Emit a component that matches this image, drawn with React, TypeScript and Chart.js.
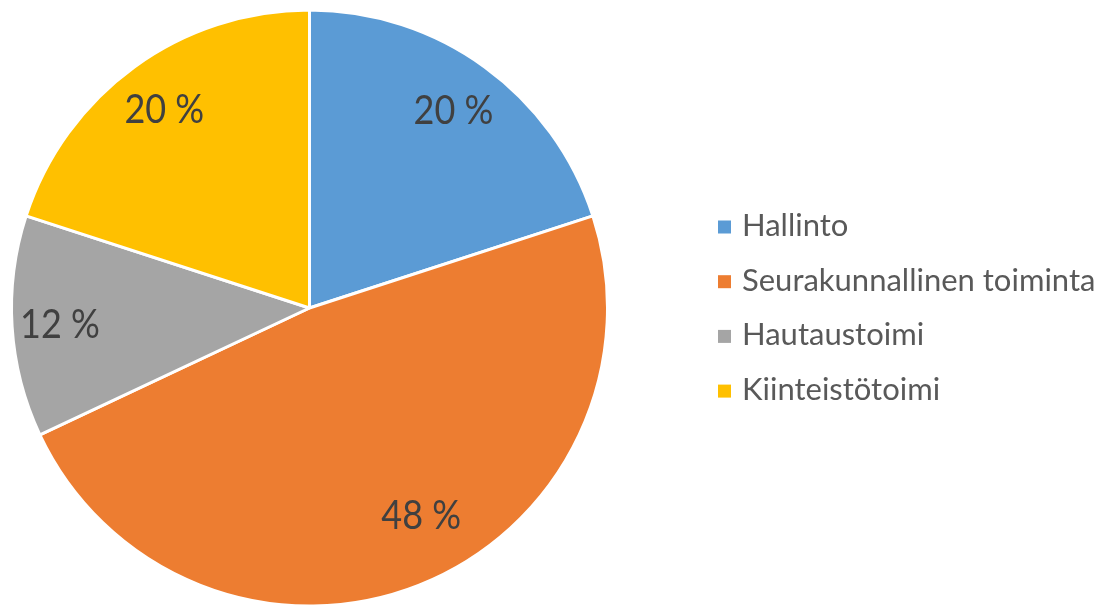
import React, { useEffect, useRef } from "react";
import { Chart, registerables } from "chart.js";

Chart.register(...registerables);

const categories = ["Hallinto", "Seurakunnallinen toiminta", "Hautaustoimi", "Kiinteistötoimi"];
const values = [20, 48, 12, 20];
const colors = ["#5B9BD5", "#ED7D31", "#A5A5A5", "#FFC000"];

// label placement (fraction of radius, angular shift in degrees)
const labelRadius = [0.822, 0.788, 0.839, 0.829];
const labelShift = [0, -6.8, 0, 0];

const FONT = "Lato, 'Open Sans', sans-serif";

const labelPlugin = {
  id: "pctLabels",
  afterDatasetsDraw(chart: any) {
    const ctx = chart.ctx;
    const meta = chart.getDatasetMeta(0);
    const total = values.reduce((a, b) => a + b, 0);
    ctx.save();
    ctx.fillStyle = "#404040";
    ctx.font = `40px ${FONT}`;
    ctx.textAlign = "center";
    ctx.textBaseline = "alphabetic";
    meta.data.forEach((arc: any, i: number) => {
      const { x, y, startAngle, endAngle, outerRadius } = arc.getProps(
        ["x", "y", "startAngle", "endAngle", "outerRadius"],
        true
      );
      const mid = (startAngle + endAngle) / 2 + (labelShift[i] * Math.PI) / 180;
      const r = outerRadius * labelRadius[i];
      const cx = x + Math.cos(mid) * r;
      const cy = y + Math.sin(mid) * r;
      const pct = Math.round((values[i] / total) * 100);
      ctx.save();
      ctx.translate(cx, cy + 14.4);
      ctx.scale(0.9, 1);
      ctx.fillText(`${pct} %`, 0, 0);
      ctx.restore();
    });
    ctx.restore();
  },
};

const legendPlugin = {
  id: "customLegend",
  afterDraw(chart: any) {
    const ctx = chart.ctx;
    ctx.save();
    ctx.font = `31px ${FONT}`;
    ctx.textBaseline = "alphabetic";
    ctx.textAlign = "left";
    const x0 = 718;
    const y0 = 227;
    const step = 54.7;
    categories.forEach((c, i) => {
      const y = y0 + i * step;
      ctx.fillStyle = colors[i];
      ctx.fillRect(x0, y - 6.5, 13, 13);
      ctx.fillStyle = "#595959";
      ctx.fillText(c, x0 + 24, y + 9);
    });
    ctx.restore();
  },
};

export default function App() {
  const ref = useRef<HTMLCanvasElement>(null);
  useEffect(() => {
    if (!ref.current) return;
    const chart = new Chart(ref.current, {
      type: "pie",
      data: {
        labels: categories,
        datasets: [
          {
            data: values,
            backgroundColor: colors,
            borderColor: "#ffffff",
            borderWidth: 3,
            radius: 298,
          } as any,
        ],
      },
      options: {
        responsive: false,
        animation: false,
        layout: { padding: { left: 11.5, right: 494.5, top: 10, bottom: 0 } },
        plugins: {
          legend: { display: false },
          tooltip: { enabled: false },
        },
      },
      plugins: [labelPlugin, legendPlugin],
    });
    return () => chart.destroy();
  }, []);
  return (
    <div style={{ position: "fixed", left: 0, top: 0, width: 1102, height: 606, background: "#fff" }}>
      <canvas ref={ref} width={1102} height={606} />
    </div>
  );
}
